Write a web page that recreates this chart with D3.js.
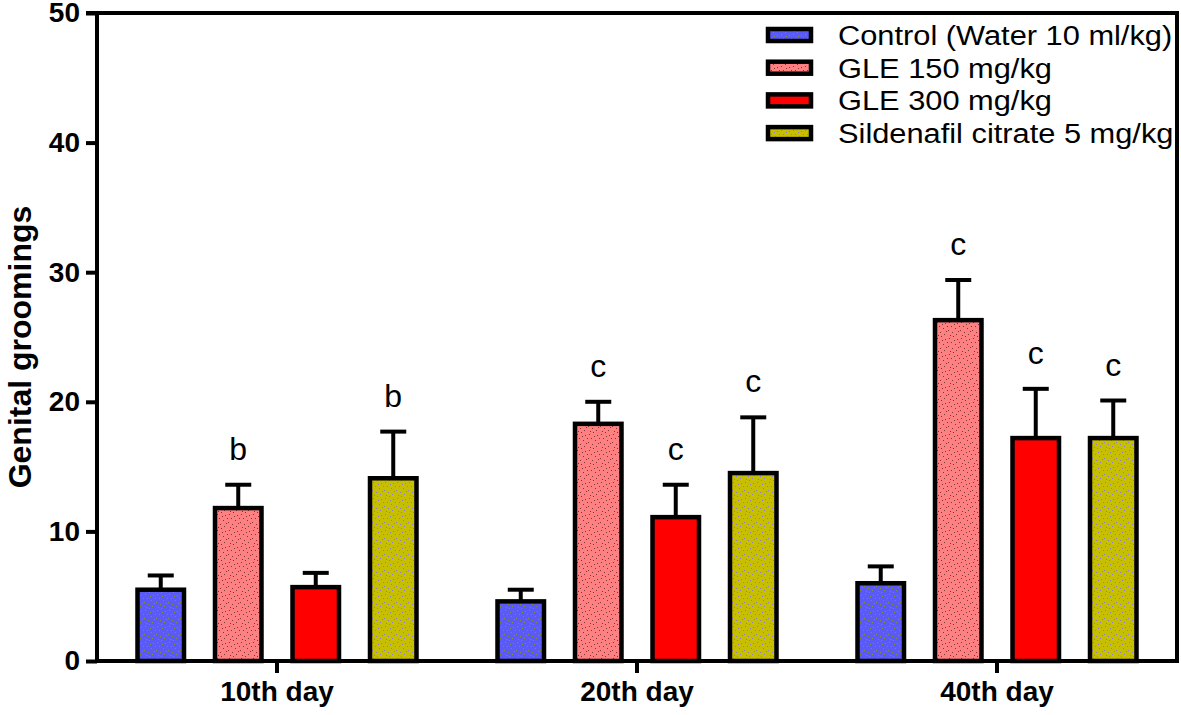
<!DOCTYPE html>
<html>
<head>
<meta charset="utf-8">
<script src="https://cdn.jsdelivr.net/npm/d3@7"></script>
<style>
  html, body { margin: 0; padding: 0; background: #fff; }
  svg { display: block; font-family: "Liberation Sans", Arial, Helvetica, sans-serif; }
</style>
</head>
<body>
<svg id="chart" width="1181" height="715"></svg>
<script>
// ---- data ----
const groups = ["10th day", "20th day", "40th day"];
const series = ["Control (Water 10 ml/kg)", "GLE 150 mg/kg", "GLE 300 mg/kg", "Sildenafil citrate 5 mg/kg"];
const controlMean = [5.5, 4.6, 6.0];
const controlErr  = [1.1, 0.9, 1.3];
const gle150Mean  = [11.8, 18.3, 26.3];
const gle150Err   = [1.8, 1.7, 3.1];
const gle300Mean  = [5.7, 11.1, 17.2];
const gle300Err   = [1.1, 2.5, 3.8];
const sildMean    = [14.1, 14.5, 17.2];
const sildErr     = [3.6, 4.3, 2.9];
const controlSig  = ["", "", ""];
const gle150Sig   = ["b", "c", "c"];
const gle300Sig   = ["", "c", "c"];
const sildSig     = ["b", "c", "c"];
const yTicks = [0, 10, 20, 30, 40, 50];
const yLabel = "Genital groomings";

const means = [controlMean, gle150Mean, gle300Mean, sildMean];
const errs = [controlErr, gle150Err, gle300Err, sildErr];
const sigs = [controlSig, gle150Sig, gle300Sig, sildSig];
const fills = ["#5a5af6", "#ff8080", "#ff0000", "#c8be00"];
const dotCols = ["#8c8c40", "#7a3838", null, "#8a80c8"];

const rows = [];
groups.forEach((g, gi) => series.forEach((s, si) => rows.push({
  group: g, series: s, si: si, value: means[si][gi], err: errs[si][gi], sig: sigs[si][gi]
})));

// ---- layout ----
const svg = d3.select("#chart");
const mLeft = 97, mRight = 1177, mTop = 13, mBottom = 661;

const y = d3.scaleLinear().domain([0, 50]).range([mBottom, mTop]);
const x0 = d3.scaleBand().domain(groups).range([mLeft, mRight]).padding(0);
const x1 = d3.scaleBand().domain(series).range([25, 335]).paddingInner(0.4).paddingOuter(0.2);

// patterns (dotted texture)
const defs = svg.append("defs");
const dotPts = [[1,2],[5,0],[9,3],[3,6],[7,8],[0,10],[10,11],[4,12],[8,14],[2,15],[6,4],[11,6]];
fills.forEach((f, i) => {
  const p = defs.append("pattern").attr("id", "pat" + i).attr("patternUnits", "userSpaceOnUse")
    .attr("width", 12).attr("height", 16);
  p.append("rect").attr("width", 12).attr("height", 16).attr("fill", f);
  if (dotCols[i]) {
    dotPts.forEach(d => p.append("rect").attr("x", d[0]).attr("y", d[1]).attr("width", 1).attr("height", 1).attr("fill", dotCols[i]));
  }
});

// frame (top and right)
svg.append("path")
  .attr("d", `M${mLeft - 11},${mTop}H${mRight}V${mBottom}`)
  .attr("fill", "none").attr("stroke", "#000").attr("stroke-width", 4);

// bars
const barG = svg.append("g");
const bw = x1.bandwidth();
rows.forEach(d => {
  const bx = x0(d.group) + x1(d.series);
  const cx = bx + bw / 2;
  barG.append("line").attr("x1", cx).attr("x2", cx).attr("y1", y(d.value)).attr("y2", y(d.value + d.err))
    .attr("stroke", "#000").attr("stroke-width", 4);
  barG.append("line").attr("x1", cx - 13).attr("x2", cx + 13).attr("y1", y(d.value + d.err)).attr("y2", y(d.value + d.err))
    .attr("stroke", "#000").attr("stroke-width", 4);
  barG.append("rect").attr("x", bx).attr("y", y(d.value)).attr("width", bw).attr("height", y(0) - y(d.value))
    .attr("fill", `url(#pat${d.si})`).attr("stroke", "#000").attr("stroke-width", 4.5);
  if (d.sig) {
    barG.append("text").attr("x", cx).attr("y", y(d.value + d.err) - 25)
      .attr("text-anchor", "middle").attr("font-size", 32).attr("fill", "#000").text(d.sig);
  }
});

// y axis
const yAxis = svg.append("g").attr("transform", `translate(${mLeft},0)`)
  .call(d3.axisLeft(y).tickValues(yTicks).tickSize(11).tickSizeOuter(0).tickPadding(6));
yAxis.select(".domain").attr("stroke-width", 4).attr("d", `M0,${mTop}V${mBottom + 2}`);
yAxis.selectAll(".tick line").attr("stroke-width", 4);
yAxis.selectAll(".tick text").attr("font-size", 28).attr("font-weight", "bold").attr("font-family", null).attr("fill", "#000");

// x axis
const xAxis = svg.append("g").attr("transform", `translate(0,${mBottom})`)
  .call(d3.axisBottom(x0).tickSize(12).tickSizeOuter(0).tickPadding(8));
xAxis.select(".domain").attr("stroke-width", 4).attr("d", `M${mLeft},0H${mRight + 2}`);
xAxis.selectAll(".tick line").attr("stroke-width", 4);
xAxis.selectAll(".tick text").attr("font-size", 28).attr("font-weight", "bold").attr("font-family", null).attr("fill", "#000");

// y label
svg.append("text").attr("transform", `translate(31,347) rotate(-90)`)
  .attr("text-anchor", "middle").attr("font-size", 32).attr("font-weight", "bold").text(yLabel);

// legend
const leg = svg.append("g");
series.forEach((s, i) => {
  const cy = 35 + i * 32.7;
  leg.append("rect").attr("x", 768).attr("y", cy - 6).attr("width", 43).attr("height", 12)
    .attr("fill", `url(#pat${i})`).attr("stroke", "#000").attr("stroke-width", 4.5);
  leg.append("text").attr("transform", `translate(838,${cy}) scale(1.1,1)`).attr("dy", "0.36em")
    .attr("font-size", 28).attr("fill", "#000").text(s);
});
</script>
</body>
</html>
